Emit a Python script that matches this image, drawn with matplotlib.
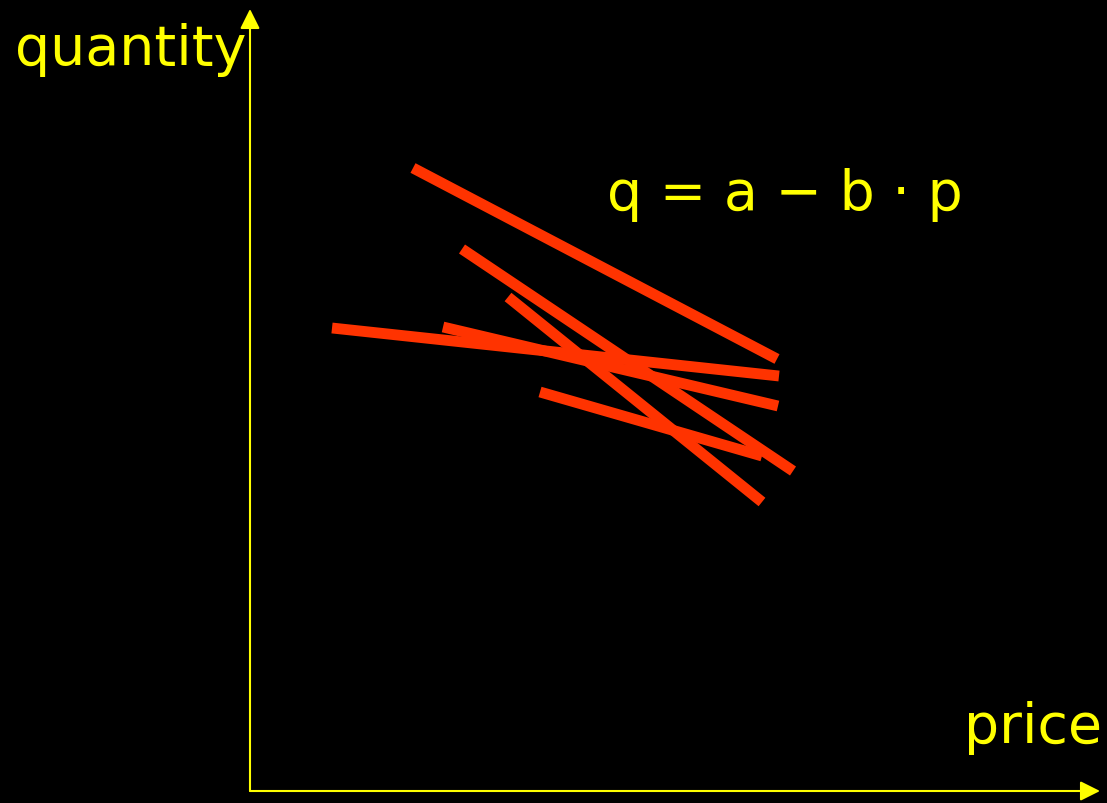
import matplotlib.pyplot as plt

# demand lines: (price, quantity) at start and end of each segment
p_start = [163, 212, 258, 82, 193, 290]
q_start = [623, 542, 494, 463, 464, 399]
p_end = [527, 543, 512, 529, 528, 512]
q_end = [432, 320, 289, 415, 385, 335]

red = '#ff3300'
yellow = '#ffff00'

fig = plt.figure(figsize=(11.07, 8.04), dpi=100, facecolor='black')
ax = fig.add_axes([0, 0, 1, 1])
ax.set_facecolor('black')
ax.set_xlim(-250, 857)
ax.set_ylim(-12, 792)
ax.axis('off')

for x0, y0, x1, y1 in zip(p_start, q_start, p_end, q_end):
    ax.plot([x0, x1], [y0, y1], color=red, lw=7.8, solid_capstyle='butt')

# axes with arrow heads
ax.annotate('', xy=(0, 782), xytext=(0, 0),
            arrowprops=dict(arrowstyle='-|>', color=yellow, lw=1.5,
                            mutation_scale=30, shrinkA=0, shrinkB=0))
ax.annotate('', xy=(850, 0), xytext=(0, 0),
            arrowprops=dict(arrowstyle='-|>', color=yellow, lw=1.5,
                            mutation_scale=30, shrinkA=0, shrinkB=0))

ax.text(-235, 727, 'quantity', color=yellow, fontsize=40, va='baseline', ha='left')
ax.text(852, 49, 'price', color=yellow, fontsize=40, va='baseline', ha='right')
ax.text(357, 582, 'q = a − b · p', color=yellow, fontsize=40, va='baseline', ha='left')

fig.savefig('out.png', dpi=100, facecolor='black')
